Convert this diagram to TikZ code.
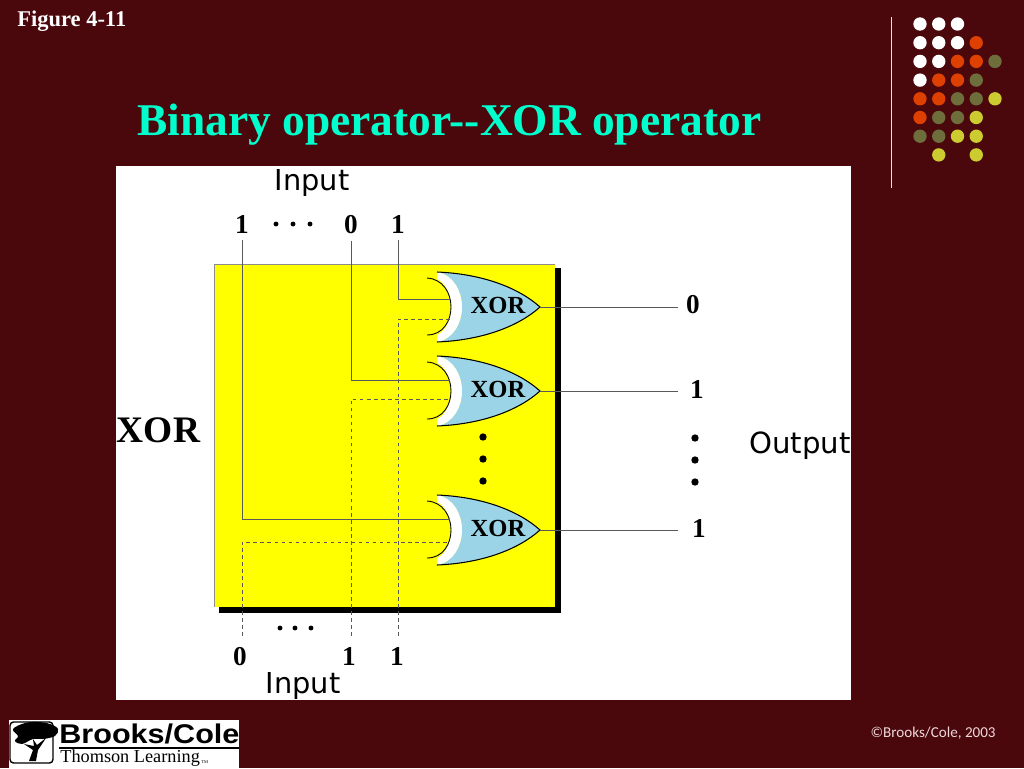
\documentclass[tikz,border=0pt]{standalone}
\usepackage{fontspec}
\setmainfont{Liberation Serif}
\newfontfamily\labelfont{DejaVu Sans}
\newfontfamily\logofont[FakeStretch=1.13]{Liberation Sans}
\newfontfamily\creditfont{Carlito}
\usetikzlibrary{positioning}

\definecolor{slidebg}{HTML}{4A080C}
\definecolor{titlecol}{HTML}{00FFCC}
\definecolor{gateblue}{HTML}{9AD4E6}
\definecolor{boxyellow}{HTML}{FFFF00}
\definecolor{dotred}{HTML}{DD4000}
\definecolor{dotolive}{HTML}{6E6E3C}
\definecolor{dotyellow}{HTML}{CCCC30}
\definecolor{creditcol}{HTML}{F0D8D8}

\newcommand{\fsz}[1]{\fontsize{#1}{#1}\selectfont}

\tikzset{
    bit/.style={font=\fsz{15.5}\bfseries, inner sep=1pt},
    word/.style={font=\fsz{16.4}\labelfont, inner sep=0pt},
    wire/.style={draw=black!65, line width=0.55pt},
    dashwire/.style={wire, dash pattern=on 2pt off 2pt},
    pt/.style={circle, fill=black, inner sep=0pt, minimum size=4.2pt},
    smallpt/.style={circle, fill=black, inner sep=0pt, minimum size=2.8pt},
    deco/.style={circle, inner sep=0pt, minimum size=7.6pt},
    pics/xorgate/.style 2 args={code={
        \fill[gateblue] (-103,-35) .. controls (-55,-33) and (-20,-18) .. (0,0)
            .. controls (-20,18) and (-55,33) .. (-103,35)
            .. controls (-86,32) and (-78,15) .. (-78,0)
            .. controls (-78,-15) and (-86,-32) .. (-103,-35) -- cycle;
        \fill[white] (-103,-35) .. controls (-86,-32) and (-78,-15) .. (-78,0)
            .. controls (-78,15) and (-86,32) .. (-103,35) -- (-103,28)
            .. controls (-94,24) and (-89,12) .. (-89,0)
            .. controls (-89,-12) and (-94,-24) .. (-103,-28) -- cycle;
        \draw[line width=0.6pt] (-103,-35) .. controls (-55,-33) and (-20,-18) .. (0,0)
            .. controls (-20,18) and (-55,33) .. (-103,35);
        \draw[line width=0.5pt] (-113,-29) .. controls (-97,-28) and (-89,-14) .. (-89,0)
            .. controls (-89,14) and (-97,28) .. (-113,28);
        \node[font=\fsz{14}\bfseries, inner sep=0pt] at (-42,-2) {XOR};
        \coordinate (-a) at (-90,#1);
        \coordinate (-b) at (-90,#2);
        \coordinate (-out) at (0,0);
    }},
}

\begin{document}
\begin{tikzpicture}[x=0.02cm, y=-0.02cm]
    \fill[slidebg] (0,0) rectangle (1024,768);
    \useasboundingbox (0,0) rectangle (1024,768);

    % heading
    \node[anchor=base west, text=white, font=\fsz{12.8}\bfseries, inner sep=0pt] (figno) at (17,26) {Figure 4-11};
    \node[anchor=base west, text=titlecol, font=\fsz{25.85}\bfseries, inner sep=0pt] (heading) at (137,135) {Binary operator-{}-XOR operator};

    % corner dots
    \draw[white!85!red, line width=0.7pt] (891.5,17) -- (891.5,188);
    \foreach \col/\row/\tone in {
        0/0/white, 1/0/white, 2/0/white,
        0/1/white, 1/1/white, 2/1/white, 3/1/dotred,
        0/2/white, 1/2/white, 2/2/dotred, 3/2/dotred, 4/2/dotolive,
        0/3/white, 1/3/dotred, 2/3/dotred, 3/3/dotolive,
        0/4/dotred, 1/4/dotred, 2/4/dotolive, 3/4/dotolive, 4/4/dotyellow,
        0/5/dotred, 1/5/dotolive, 2/5/dotolive, 3/5/dotyellow,
        0/6/dotolive, 1/6/dotolive, 2/6/dotyellow, 3/6/dotyellow,
        1/7/dotyellow, 3/7/dotyellow}
        \node[deco, fill=\tone] (d\col\row) at (920+18.75*\col, 24+18.7*\row) {};

    % panel
    \fill[white] (116,166) rectangle (851,700);
    \fill[black] (219,268) rectangle (561,613);
    \fill[boxyellow] (214,264) rectangle (555,607);
    \draw[black!45, line width=0.4pt] (214,607) -- (214,264) -- (555,264);

    \pic (gateA) at (540,307) {xorgate={-8}{12}};
    \pic (gateB) at (540,391) {xorgate={-11}{8}};
    \pic (gateC) at (540,530) {xorgate={-10.5}{12}};

    % top inputs
    \node[word] (inputtop) at (312,183) {Input};
    \node[bit] (ta) at (242,225) {1};
    \node[bit] (tb) at (351,225) {0};
    \node[bit] (tc) at (398,225) {1};
    \node[smallpt] (tdotA) at (276,224) {};
    \node[smallpt] (tdotB) at (293,224) {};
    \node[smallpt] (tdotC) at (310,224) {};

    \draw[wire, shorten <=2.5pt] (ta.south) |- (gateC-a);
    \draw[wire, shorten <=2.5pt] (tb.south) |- (gateB-a);
    \draw[wire, shorten <=2.5pt] (tc.south) |- (gateA-a);

    % bottom inputs
    \coordinate (ba) at (242,636);
    \coordinate (bb) at (351,636);
    \coordinate (bc) at (398,636);
    \node[bit] (bita) at (240,657) {0};
    \node[bit] (bitb) at (349,656) {1};
    \node[bit] (bitc) at (397,656) {1};
    \node[word] (inputbot) at (303,686) {Input};
    \node[smallpt] (bdotA) at (280,628) {};
    \node[smallpt] (bdotB) at (295,628) {};
    \node[smallpt] (bdotC) at (311,628) {};

    \draw[dashwire] (ba) |- (gateC-b);
    \draw[dashwire] (bb) |- (gateB-b);
    \draw[dashwire] (bc) |- (gateA-b);

    % outputs
    \coordinate (oa) at (678,307);
    \coordinate (ob) at (678,391);
    \coordinate (oc) at (678,530);
    \node[bit] (outa) at (693,305) {0};
    \node[bit] (outb) at (697,390) {1};
    \node[bit] (outc) at (699,529) {1};
    \draw[wire] (gateA-out) -- (oa);
    \draw[wire] (gateB-out) -- (ob);
    \draw[wire] (gateC-out) -- (oc);

    \foreach \y in {437,459,481} {
        \node[pt] (gd\y) at (483,\y) {};
        \node[pt] (od\y) at (695,\y+1) {};
    }
    \node[word, font=\fsz{16.6}\labelfont] (output) at (800,446) {Output};
    \node[font=\fsz{21.3}\bfseries, inner sep=0pt] (xorname) at (158.5,430) {XOR};

    % logo
    \fill[white] (9,720) rectangle (239,768);
    \draw[black, line width=0.8pt, rounded corners=2pt] (10,722) rectangle (53,763);
    \fill[black] plot[smooth cycle, tension=0.6] coordinates {(13,729) (25,723) (38,722) (50,724) (58,729) (55,736) (43,739) (33,739) (22,744) (15,741) (18,736)};
    \fill[black] (29,761) -- (33,750) -- (24,744) -- (34,746) -- (33,739) -- (37,745) -- (46,738) -- (38,750) -- (36,761) -- cycle;
    \node[anchor=base west, font=\fsz{15.4}\logofont\bfseries, inner sep=0pt] (brand) at (59,743.5) {Brooks/Cole};
    \draw[black, line width=0.6pt] (59,748) -- (239,748);
    \node[anchor=base west, font=\fsz{10.4}, inner sep=0pt] (brandsub) at (60,762) {Thomson Learning};
    \node[anchor=base west, font=\fsz{2.5}, inner sep=0pt] (brandtm) at (201,763) {TM};

    \node[anchor=east, text=creditcol, font=\fsz{8.6}\creditfont, inner sep=0pt] (credit) at (996,733) {©Brooks/Cole, 2003};
\end{tikzpicture}
\end{document}
